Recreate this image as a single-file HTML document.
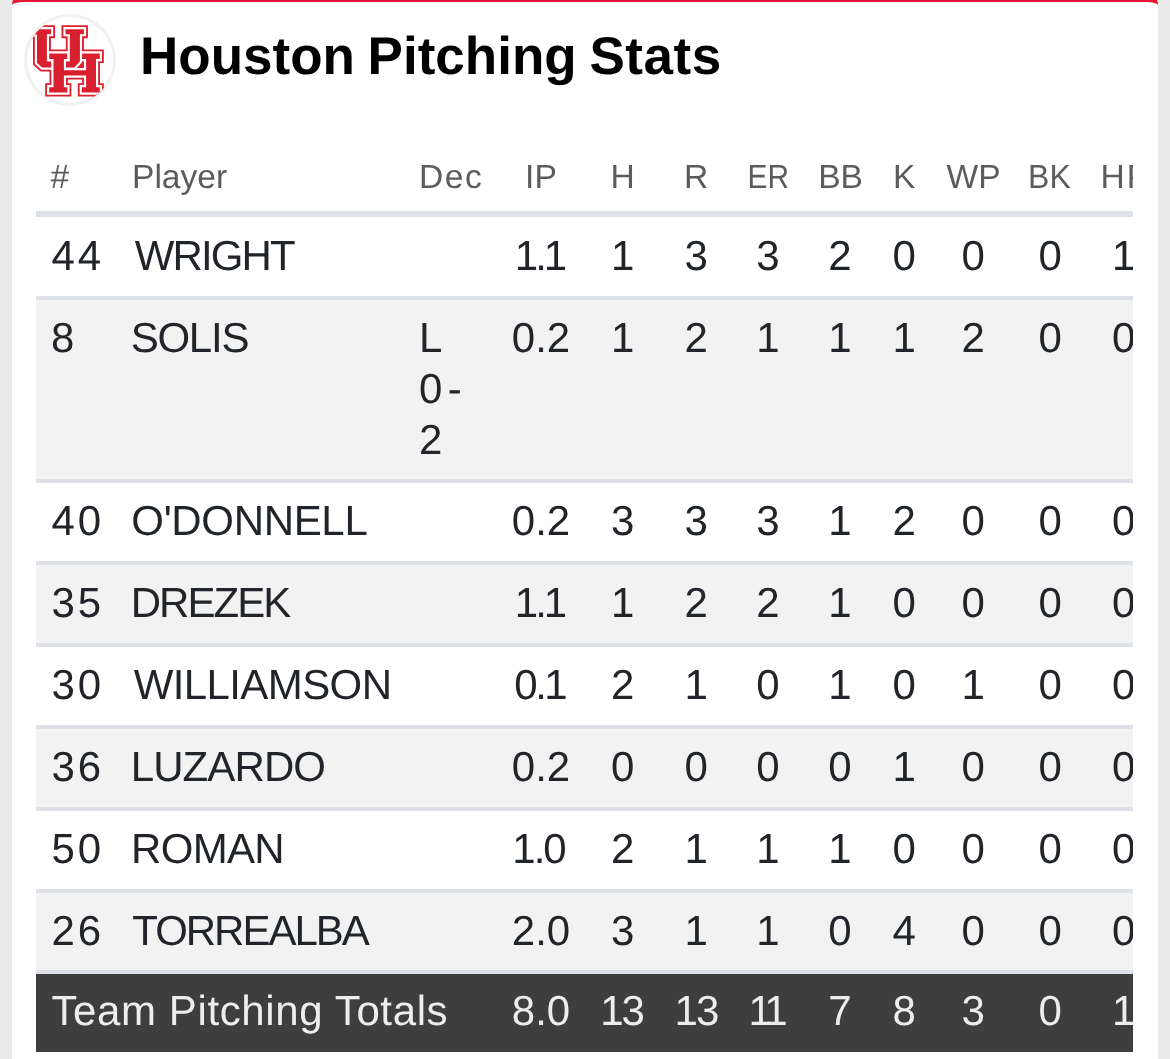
<!DOCTYPE html>
<html lang="en">
<head>
<meta charset="utf-8">
<title>Houston Pitching Stats</title>
<style>
  html, body { margin: 0; padding: 0; }
  body {
    width: 1170px; height: 1059px; overflow: hidden; position: relative;
    background: #e9e9e9;
    font-family: "Liberation Sans", sans-serif;
    color: #212529;
    -webkit-font-smoothing: antialiased; text-rendering: geometricPrecision;
  }
  .card {
    position: absolute; left: 12px; top: -7px; width: 1146px; height: 1080px;
    box-sizing: border-box;
    background: #fff;
    border-top: 9px solid #e51636;
    border-radius: 12px 12px 0 0;
  }
  .logo { position: absolute; left: 22px; top: 12px; width: 96px; height: 96px; }
  h2.title {
    position: absolute; left: 140px; top: 25px; margin: 0;
    font-size: 53px; line-height: 64px; font-weight: 700; color: #000;
    white-space: nowrap; letter-spacing: 0px; word-spacing: -2px; will-change: transform;
  }
  .scroll {
    position: absolute; left: 36px; top: 142px; width: 1097px; height: 917px;
    overflow: hidden; will-change: transform;
  }
  table {
    border-collapse: separate; border-spacing: 0; table-layout: fixed;
    width: 1125.2px; font-size: 42px; line-height: 50px;
  }
  th, td { padding: 14px 14.4px 15px 14.4px; text-align: center; vertical-align: top; font-weight: 400; overflow: hidden; }
  th {
    font-size: 33.6px; line-height: 40px; color: #5c5c5c; padding-top: 16px; padding-bottom: 13px;
    border-bottom: 6px solid #dee2e6; white-space: nowrap;
  }
  td { border-top: 4px solid #dee2e6; padding-top: 13px; }
  tbody tr:first-child td { border-top: 0; padding-top: 14px; }
  tbody tr:nth-child(even) td { background: #f2f2f2; }
  th.l, td.l { text-align: left; }
  tr.tall td { height: 152px; padding-bottom: 14px; }
  tr.tall td.dec { line-height: 51px; padding-top: 12px; height: 153px; }
  tr.r8 td { padding-bottom: 14px; }
  tr.tot td { background: #3e3e3e; color: #ededed; padding-top: 12px; padding-bottom: 16px; white-space: nowrap; }
  td span, th span { display: inline-block; white-space: nowrap; }
</style>
</head>
<body>
<div class="card"></div>

<svg class="logo" viewBox="22 12 96 96">
  <defs>
    <clipPath id="cc"><circle cx="70" cy="60.5" r="43.6"/></clipPath>
    <path id="U" d="M32.8 29.2H51.1V34.2H46.9V61.6H69.8V34.2H65.5V29.2H83.95V34.2H79.9V61.5L74.3 67.6H42.2L37 62.9V34.6H32.8Z"/>
    <path id="Ufill" d="M32.8 29.2H51.1V34.2H46.9V61.6H51.2V67.6H42.2L37 62.9V34.6H32.8ZM66 61.6H69.8V34.2H65.5V29.2H83.95V34.2H79.9V61.5L74.3 67.6H66Z"/>
    <path id="H" d="M49.2 53.4H67.2V59.1H63.9V70.2H86.1V59.1H82.1V53.4H99.8V59.1H96V87.2H99.8V92.6H81.8V87.2H86.1V75.6H63.9V87.2H67.4V92.6H49.2V87.2H53.5V59.1H49.2Z"/>
  </defs>
  <circle cx="70" cy="60" r="44.4" fill="#fff" stroke="#f1f1f1" stroke-width="3"/>
  <g clip-path="url(#cc)" stroke-linejoin="miter">
    <use href="#U" fill="#d9202e" stroke="#de1f2e" stroke-width="8"/>
    <use href="#H" fill="#d9202e" stroke="#de1f2e" stroke-width="8"/>
    <path d="M77.4 68H84.2V61.6Z" fill="#de1f2e"/>
    <use href="#U" fill="none" stroke="#fff" stroke-width="4.3"/>
    <use href="#H" fill="none" stroke="#fff" stroke-width="4.3"/>
    <use href="#Ufill" fill="#d9202e"/>
    <use href="#H" fill="#d9202e"/>
  </g>
</svg>

<h2 class="title">Houston Pitching <span style="letter-spacing:0.55px">Stats</span></h2>

<div class="scroll">
<table>
  <colgroup>
    <col style="width:81.6px"><col style="width:287px"><col style="width:92.4px">
    <col style="width:88px"><col style="width:75.2px"><col style="width:72px">
    <col style="width:71.6px"><col style="width:72.4px"><col style="width:56px">
    <col style="width:82.2px"><col style="width:71.8px"><col style="width:75px">
  </colgroup>
  <thead>
    <tr>
      <th class="l">#</th><th class="l">Player</th><th class="l"><span style="letter-spacing:1.6px">Dec</span></th>
      <th>IP</th><th>H</th><th>R</th><th><span style="transform:scaleX(0.89);margin-left:-1.5px">ER</span></th><th>BB</th><th>K</th><th>WP</th><th><span style="transform:scaleX(0.95);margin-left:-2px">BK</span></th><th><span style="letter-spacing:2px;margin-right:-4px">HP</span></th>
    </tr>
  </thead>
  <tbody>
    <tr><td class="l"><span style="letter-spacing:3px;margin-left:1px">44</span></td><td class="l"><span style="letter-spacing:-1.84px;margin-left:2.7px">WRIGHT</span></td><td class="l"></td><td><span style="letter-spacing:-3px;margin-right:3px">1.1</span></td><td>1</td><td>3</td><td>3</td><td>2</td><td>0</td><td>0</td><td>0</td><td>1</td></tr>
    <tr class="tall"><td class="l"><span style="margin-left:0.5px">8</span></td><td class="l"><span style="letter-spacing:-1.25px;margin-left:-1.3px">SOLIS</span></td><td class="l dec">L<br><span style="letter-spacing:5.5px">0-</span><br>2</td><td>0.2</td><td>1</td><td>2</td><td>1</td><td>1</td><td>1</td><td>2</td><td>0</td><td>0</td></tr>
    <tr><td class="l"><span style="letter-spacing:3px;margin-left:1px">40</span></td><td class="l"><span style="letter-spacing:-0.33px;margin-left:-0.7px">O'DONNELL</span></td><td class="l"></td><td>0.2</td><td>3</td><td>3</td><td>3</td><td>1</td><td>2</td><td>0</td><td>0</td><td>0</td></tr>
    <tr><td class="l"><span style="letter-spacing:3px;margin-left:1px">35</span></td><td class="l"><span style="letter-spacing:-1.94px;margin-left:-1.3px">DREZEK</span></td><td class="l"></td><td><span style="letter-spacing:-3px;margin-right:3px">1.1</span></td><td>1</td><td>2</td><td>2</td><td>1</td><td>0</td><td>0</td><td>0</td><td>0</td></tr>
    <tr><td class="l"><span style="letter-spacing:3px;margin-left:1px">30</span></td><td class="l"><span style="letter-spacing:-0.60px;margin-left:1.7px">WILLIAMSON</span></td><td class="l"></td><td><span style="letter-spacing:-2.5px;margin-right:2.5px">0.1</span></td><td>2</td><td>1</td><td>0</td><td>1</td><td>0</td><td>1</td><td>0</td><td>0</td></tr>
    <tr><td class="l"><span style="letter-spacing:3px;margin-left:1px">36</span></td><td class="l"><span style="letter-spacing:-0.90px;margin-left:-1.3px">LUZARDO</span></td><td class="l"></td><td>0.2</td><td>0</td><td>0</td><td>0</td><td>0</td><td>1</td><td>0</td><td>0</td><td>0</td></tr>
    <tr><td class="l"><span style="letter-spacing:3px;margin-left:1px">50</span></td><td class="l"><span style="letter-spacing:-0.68px;margin-left:-0.9px">ROMAN</span></td><td class="l"></td><td><span style="letter-spacing:-2px;margin-right:5px">1.0</span></td><td>2</td><td>1</td><td>1</td><td>1</td><td>0</td><td>0</td><td>0</td><td>0</td></tr>
    <tr class="r8"><td class="l"><span style="letter-spacing:3px;margin-left:1px">26</span></td><td class="l"><span style="letter-spacing:-2.02px;margin-left:0.3px">TORREALBA</span></td><td class="l"></td><td>2.0</td><td>3</td><td>1</td><td>1</td><td>0</td><td>4</td><td>0</td><td>0</td><td>0</td></tr>
    <tr class="tot"><td class="l" colspan="3"><span style="letter-spacing:0.62px;margin-left:1px">Team Pitching Totals</span></td><td>8.0</td><td><span style="letter-spacing:-2px;margin-right:2px">13</span></td><td><span style="letter-spacing:-2px;margin-right:2px">13</span></td><td><span style="letter-spacing:-4.5px;margin-right:4.5px">11</span></td><td>7</td><td>8</td><td>3</td><td>0</td><td>1</td></tr>
  </tbody>
</table>
</div>
</body>
</html>
